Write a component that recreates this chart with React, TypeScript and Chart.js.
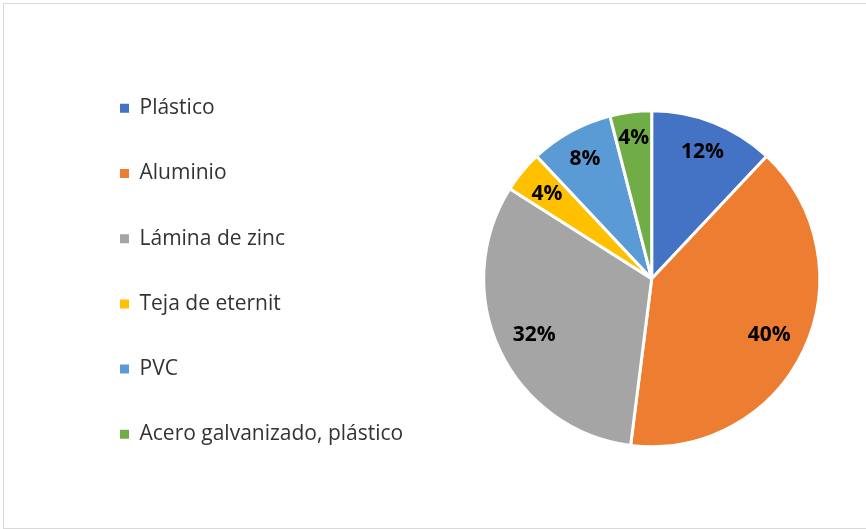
import { useEffect, useRef } from 'react';
import { Chart, registerables } from 'chart.js';

Chart.register(...registerables);

// ---- data ----
const categories = [
  'Plástico',
  'Aluminio',
  'Lámina de zinc',
  'Teja de eternit',
  'PVC',
  'Acero galvanizado, plástico',
];
const values = [12, 40, 32, 4, 8, 4];
const colors = ['#4472C4', '#ED7D31', '#A5A5A5', '#FFC000', '#5B9BD5', '#70AD47'];

// ---- layout constants ----
const W = 866;
const H = 529;
const FONT_FAMILY = '"Open Sans"';
const LEGEND_SIZE = 21;
const LABEL_SIZE = 21;
const LEGEND_STEP = 65.2;
const LEGEND_PAD = LEGEND_STEP - LEGEND_SIZE;
const BOX_LEFT = 120;
const BOX_W = 9;
const PIE_CX = 651.7;
const PIE_R = 168;
const PAD_TOP = 13.6;
const TOP_SPACER = 14.8;

const pctLabels = {
  id: 'pctLabels',
  afterDatasetsDraw(chart: any) {
    const ctx = chart.ctx as CanvasRenderingContext2D;
    const meta = chart.getDatasetMeta(0);
    const data = chart.data.datasets[0].data as number[];
    const total = data.reduce((a, b) => a + b, 0);
    ctx.save();
    ctx.font = `bold ${LABEL_SIZE}px ${FONT_FAMILY}`;
    ctx.fillStyle = '#000000';
    ctx.textAlign = 'center';
    ctx.textBaseline = 'alphabetic';
    const capH = LABEL_SIZE * 0.714;
    meta.data.forEach((arc: any, i: number) => {
      const { x, y, startAngle, endAngle, outerRadius } = arc.getProps(
        ['x', 'y', 'startAngle', 'endAngle', 'outerRadius'],
        true
      );
      const mid = (startAngle + endAngle) / 2;
      const text = Math.round((data[i] / total) * 100) + '%';
      const w = ctx.measureText(text).width;
      const ext = Math.abs(Math.cos(mid)) * (w / 2) + Math.abs(Math.sin(mid)) * (capH / 2);
      const d = outerRadius - 1.5 - 14 - ext;
      ctx.fillText(text, x + Math.cos(mid) * d, y + Math.sin(mid) * d + capH / 2);
    });
    ctx.restore();
  },
};

export default function App() {
  const ref = useRef<HTMLCanvasElement>(null);

  useEffect(() => {
    if (!ref.current) return;
    const mctx = document.createElement('canvas').getContext('2d') as CanvasRenderingContext2D;
    mctx.font = `${LEGEND_SIZE}px ${FONT_FAMILY}`;
    const textW = Math.max(...categories.map((t) => mctx.measureText(t).width));
    const legendRight = BOX_LEFT + BOX_W + LEGEND_SIZE / 2 + textW + 10;
    const areaLeft = 2 * PIE_CX - W;
    const spacer = Math.max(1, areaLeft - legendRight);

    Chart.defaults.font.family = FONT_FAMILY;
    const baseGen = (Chart as any).overrides.pie.plugins.legend.labels.generateLabels;

    const chart = new Chart(ref.current, {
      type: 'pie',
      data: {
        labels: categories,
        datasets: [
          {
            data: values,
            backgroundColor: colors,
            borderColor: '#ffffff',
            borderWidth: 3,
            radius: PIE_R,
          } as any,
        ],
      },
      options: {
        responsive: false,
        animation: false,
        events: [],
        layout: {
          padding: { left: BOX_LEFT - LEGEND_PAD, top: PAD_TOP, right: 0, bottom: 0 },
        },
        plugins: {
          tooltip: { enabled: false },
          legend: {
            display: true,
            position: 'left',
            align: 'center',
            maxWidth: 600,
            labels: {
              boxWidth: BOX_W,
              boxHeight: BOX_W,
              padding: LEGEND_PAD,
              color: '#333333',
              font: { family: FONT_FAMILY, size: LEGEND_SIZE },
              generateLabels: (c: any) =>
                baseGen(c).map((l: any) => ({ ...l, lineWidth: 0, strokeStyle: l.fillStyle })),
            },
          },
          title: {
            display: true,
            text: '',
            position: 'left',
            weight: 500,
            font: { size: 1, lineHeight: 1 },
            padding: { top: spacer - 1, bottom: 0 },
          },
          subtitle: {
            display: true,
            text: '',
            position: 'top',
            fullSize: false,
            font: { size: 1, lineHeight: 1 },
            padding: { top: TOP_SPACER - 1, bottom: 0 },
          },
        },
      } as any,
      plugins: [pctLabels],
    });
    return () => chart.destroy();
  }, []);

  return (
    <div
      style={{
        position: 'absolute',
        left: 0,
        top: 0,
        width: W,
        height: H,
        overflow: 'hidden',
        background: '#ffffff',
      }}
    >
      <div
        style={{
          position: 'absolute',
          left: 3,
          top: 3,
          width: W,
          height: 524,
          borderLeft: '1px solid #d9d9d9',
          borderTop: '1px solid #d9d9d9',
          borderBottom: '1px solid #d9d9d9',
        }}
      />
      <canvas
        ref={ref}
        width={W}
        height={H}
        style={{ position: 'absolute', left: 0, top: 0, width: W, height: H }}
      />
    </div>
  );
}
